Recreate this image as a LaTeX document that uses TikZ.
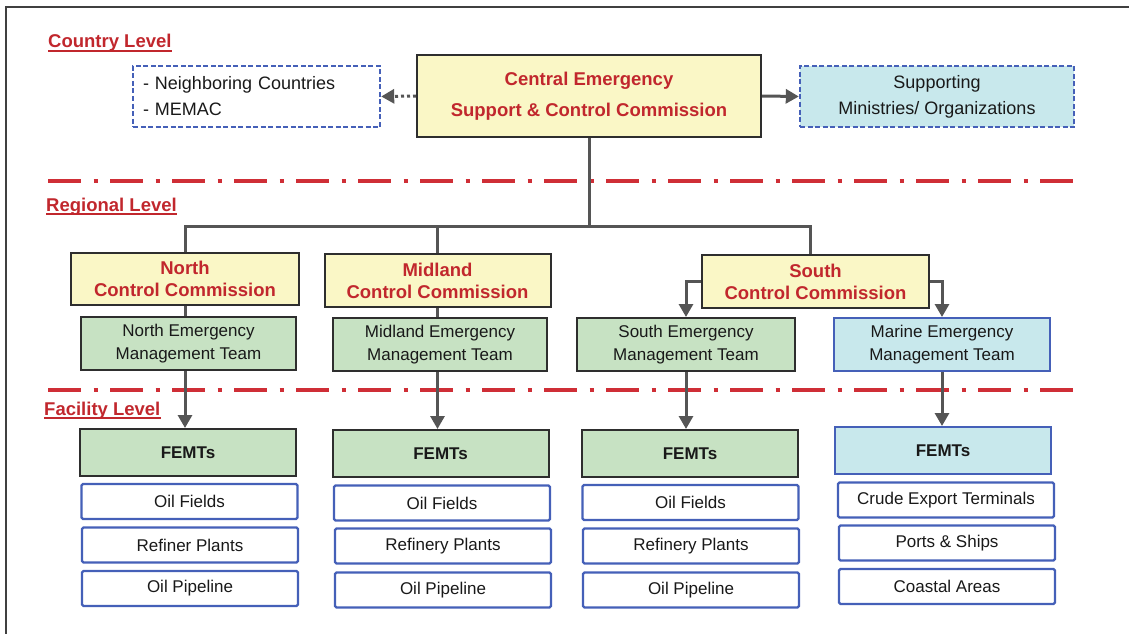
\documentclass[tikz,border=0pt]{standalone}
\usepackage{fontspec}
\setmainfont{Liberation Sans}
\usetikzlibrary{arrows.meta}
\definecolor{cred}{HTML}{C1272D}
\definecolor{lred}{HTML}{CF2E36}
\definecolor{cyel}{HTML}{FAF7C6}
\definecolor{cgrn}{HTML}{C7E2C3}
\definecolor{ccyn}{HTML}{C8E8EC}
\definecolor{cblu}{HTML}{4560B8}
\definecolor{cdrk}{HTML}{2E2E2E}
\definecolor{cgry}{HTML}{555555}
\begin{document}
\begin{tikzpicture}[x=1pt,y=-1pt,
 box/.style={inner sep=0pt, align=center, text=black!90},
 yel/.style={box, draw=cdrk, line width=2pt, fill=cyel, text=cred, font=\fontsize{18.5}{22}\selectfont\bfseries},
 grn/.style={box, draw=cdrk, line width=2pt, fill=cgrn, font=\fontsize{17}{23}\selectfont},
 cyn/.style={box, draw=cblu, line width=2pt, fill=ccyn, font=\fontsize{17}{23}\selectfont},
 fem/.style={minimum width=216, minimum height=47, font=\fontsize{17}{20}\selectfont\bfseries},
 emt/.style={minimum height=53},
 item/.style={box, draw=cblu, line width=2.2pt, fill=white, rounded corners=1.5pt, minimum width=216, minimum height=35, font=\fontsize{17}{20}\selectfont},
 ext/.style={box, draw=cblu, line width=2.4pt, dash pattern=on 5pt off 2.5pt, minimum height=61, font=\fontsize{18}{26}\selectfont},
 lvl/.style={inner sep=0pt, anchor=base west, text=cred, font=\fontsize{18.5}{22}\selectfont\bfseries},
 uline/.style={cred, line width=1.8pt},
 sepline/.style={lred, line width=4pt, dash pattern=on 33pt off 12.5pt on 4pt off 12.5pt},
 conn/.style={cgry, line width=3pt},
 arr/.style={conn, -{Triangle[width=14pt,length=13pt]}},
]
\useasboundingbox (0,0) rectangle (1129,634);
\draw[black!75, line width=2.5pt] (6,634) -- (6,7) -- (1129,7);

% level labels
\node[lvl] (lc) at (48,48) {Country Level};
\node[lvl] (lr) at (46,211) {Regional Level};
\node[lvl] (lf) at (44,415) {Facility Level};
\draw[uline] ([yshift=-3pt]lc.base west) -- ([yshift=-3pt]lc.base east);
\draw[uline] ([yshift=-3pt]lr.base west) -- ([yshift=-3pt]lr.base east);
\draw[uline] ([yshift=-3pt]lf.base west) -- ([yshift=-3pt]lf.base east);

% separators
\coordinate (s1a) at (48,181); \coordinate (s1b) at (1082,181);
\coordinate (s2a) at (48,390); \coordinate (s2b) at (1082,390);
\draw[sepline] (s1a) -- (s1b);
\draw[sepline] (s2a) -- (s2b);

% country level
\node[yel, font=\fontsize{18.5}{31}\selectfont\bfseries, minimum width=344, minimum height=82] (cent) at (589,96) {Central Emergency\\Support \& Control Commission};
\node[ext, text width=227, inner xsep=10pt, align=left] (nbr) at (256.5,96.5) {- Neighboring Countries\\- MEMAC};
\node[ext, fill=ccyn, minimum width=274] (sup) at (937,96.5) {Supporting\\Ministries/ Organizations};
\draw[arr, dash pattern=on 3pt off 3pt] (cent.west) -- (nbr.east);
\draw[arr] (cent.east) -- (sup.west);

% regional level
\node[yel, minimum width=228, minimum height=52] (ncc) at (185,279) {North\\Control Commission};
\node[yel, minimum width=226, minimum height=53] (mcc) at (437.5,280.5) {Midland\\Control Commission};
\node[yel, minimum width=227, minimum height=53] (scc) at (815.5,281.5) {South\\Control Commission};

\coordinate (bar) at (589,226);
\coordinate (barw) at (185,226);
\coordinate (bare) at (810,226);
\draw[conn] (cent.south) -- (bar);
\draw[conn] (barw |- ncc.north) -- (barw) -- (bare) -- (bare |- scc.north);
\draw[conn] (mcc.north) -- (mcc.north |- bar);

\node[grn, emt, minimum width=215] (nemt) at (188.5,343.5) {North Emergency\\Management Team};
\node[grn, emt, minimum width=214] (memt) at (440,344.5) {Midland Emergency\\Management Team};
\node[grn, emt, minimum width=218] (semt) at (686,344.5) {South Emergency\\Management Team};
\node[cyn, emt, minimum width=216] (mar) at (942,344.5) {Marine Emergency\\Management Team};

\draw[conn] (ncc.south) -- (ncc.south |- nemt.north);
\draw[conn] (mcc.south) -- (mcc.south |- memt.north);
\draw[arr] (scc.west) -| (semt.north);
\draw[arr] (scc.east) -| (mar.north);

% facility level
\node[grn, fem] (nfem) at (188,452.5) {FEMTs};
\node[grn, fem] (mfem) at (440.5,453.5) {FEMTs};
\node[grn, fem] (sfem) at (690,453.5) {FEMTs};
\node[cyn, fem] (afem) at (943,450.5) {FEMTs};

\draw[arr] (nemt.south -| ncc.south) -- (nfem.north -| ncc.south);
\draw[arr] (memt.south -| mcc.south) -- (mfem.north -| mcc.south);
\draw[arr] (semt.south) -- (semt.south |- sfem.north);
\draw[arr] (mar.south) -- (mar.south |- afem.north);

\node[item] (n1) at (189.5,501.5) {Oil Fields};
\node[item] (n2) at (190,545) {Refiner Plants};
\node[item] (n3) at (190,588.5) {Oil Pipeline};

\node[item] (m1) at (442,503) {Oil Fields};
\node[item] (m2) at (443,546) {Refinery Plants};
\node[item] (m3) at (443,590) {Oil Pipeline};

\node[item] (t1) at (690.5,502.5) {Oil Fields};
\node[item] (t2) at (691,546) {Refinery Plants};
\node[item] (t3) at (691,590) {Oil Pipeline};

\node[item] (a1) at (946,500) {Crude Export Terminals};
\node[item] (a2) at (947,543) {Ports \& Ships};
\node[item] (a3) at (947,586.5) {Coastal Areas};
\end{tikzpicture}
\end{document}
